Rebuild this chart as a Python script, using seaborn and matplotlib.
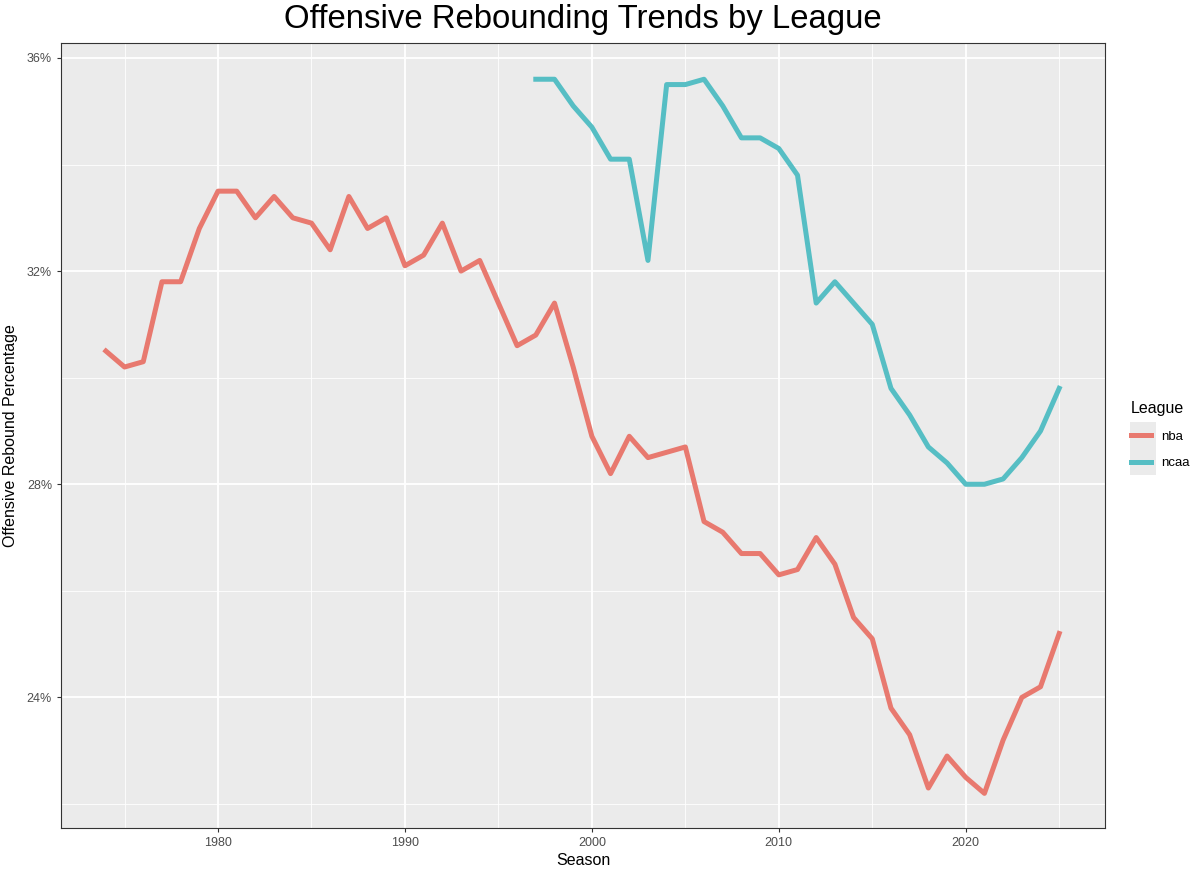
import numpy as np
import pandas as pd
import seaborn as sns
import matplotlib.pyplot as plt
from matplotlib.patches import Rectangle
from matplotlib.ticker import MultipleLocator, FuncFormatter

nba_seasons = list(range(1974, 2026))
nba_orb = [30.5, 30.2, 30.3, 31.8, 31.8, 32.8, 33.5, 33.5, 33.0, 33.4,
           33.0, 32.9, 32.4, 33.4, 32.8, 33.0, 32.1, 32.3, 32.9, 32.0,
           32.2, 31.4, 30.6, 30.8, 31.4, 30.2, 28.9, 28.2, 28.9, 28.5,
           28.6, 28.7, 27.3, 27.1, 26.7, 26.7, 26.3, 26.4, 27.0, 26.5,
           25.5, 25.1, 23.8, 23.3, 22.3, 22.9, 22.5, 22.2, 23.2, 24.0,
           24.2, 25.2]

ncaa_seasons = list(range(1997, 2026))
ncaa_orb = [35.6, 35.6, 35.1, 34.7, 34.1, 34.1, 32.2, 35.5, 35.5, 35.6,
            35.1, 34.5, 34.5, 34.3, 33.8, 31.4, 31.8, 31.4, 31.0, 29.8,
            29.3, 28.7, 28.4, 28.0, 28.0, 28.1, 28.5, 29.0, 29.8]

df = pd.DataFrame({
    'Season': nba_seasons + ncaa_seasons,
    'ORB': nba_orb + ncaa_orb,
    'League': ['nba'] * len(nba_seasons) + ['ncaa'] * len(ncaa_seasons),
})

palette = {'nba': '#E8796F', 'ncaa': '#56BEC4'}

plt.rcParams['font.family'] = ['Liberation Sans', 'DejaVu Sans']
fig = plt.figure(figsize=(12, 8.73), dpi=100)
ax = fig.add_axes([61 / 1200, 1 - 828 / 873, (1105 - 61) / 1200, (828 - 43) / 873])
ax.set_facecolor('#EBEBEB')

sns.lineplot(data=df, x='Season', y='ORB', hue='League', palette=palette,
             linewidth=3.6, ax=ax)

ax.set_xlim(1971.6, 2027.45)
ax.set_ylim(21.55, 36.28)
ax.xaxis.set_major_locator(MultipleLocator(10))
ax.xaxis.set_minor_locator(MultipleLocator(5))
ax.yaxis.set_major_locator(MultipleLocator(4))
ax.yaxis.set_minor_locator(MultipleLocator(2))
ax.yaxis.set_major_formatter(FuncFormatter(lambda v, p: f'{v:.0f}%'))
ax.grid(which='major', color='white', linewidth=1.3)
ax.grid(which='minor', color='white', linewidth=0.6)
ax.set_axisbelow(True)
ax.tick_params(which='major', length=3, color='#333333', labelsize=9, labelcolor='#4D4D4D')
ax.tick_params(which='minor', length=0)
for s in ax.spines.values():
    s.set_color('#333333')
    s.set_linewidth(0.8)

ax.set_xlabel('Season', fontsize=11.5, labelpad=3)
ax.set_ylabel('Offensive Rebound Percentage', fontsize=11.5, labelpad=6)
fig.suptitle('Offensive Rebounding Trends by League', x=(61 + 1105) / 2400, y=0.995,
             fontsize=23.7, va='top')

# grey key background like ggplot legend keys
fig.patches.append(Rectangle((1130 / 1200, 1 - 475 / 873), 26 / 1200, 53 / 873,
                             transform=fig.transFigure, facecolor='#EBEBEB',
                             edgecolor='none', zorder=-1))

leg = ax.legend(title='League', loc='upper left',
                bbox_to_anchor=(1131 / 1200, 1 - 401 / 873),
                bbox_transform=fig.transFigure, borderpad=0, borderaxespad=0,
                frameon=False, fontsize=9.5, title_fontsize=11.5,
                handlelength=1.5, handletextpad=0.8, labelspacing=1.1,
                alignment='left')
for h in leg.get_lines():
    h.set_linewidth(3.6)

fig.savefig('out.png', dpi=100)
